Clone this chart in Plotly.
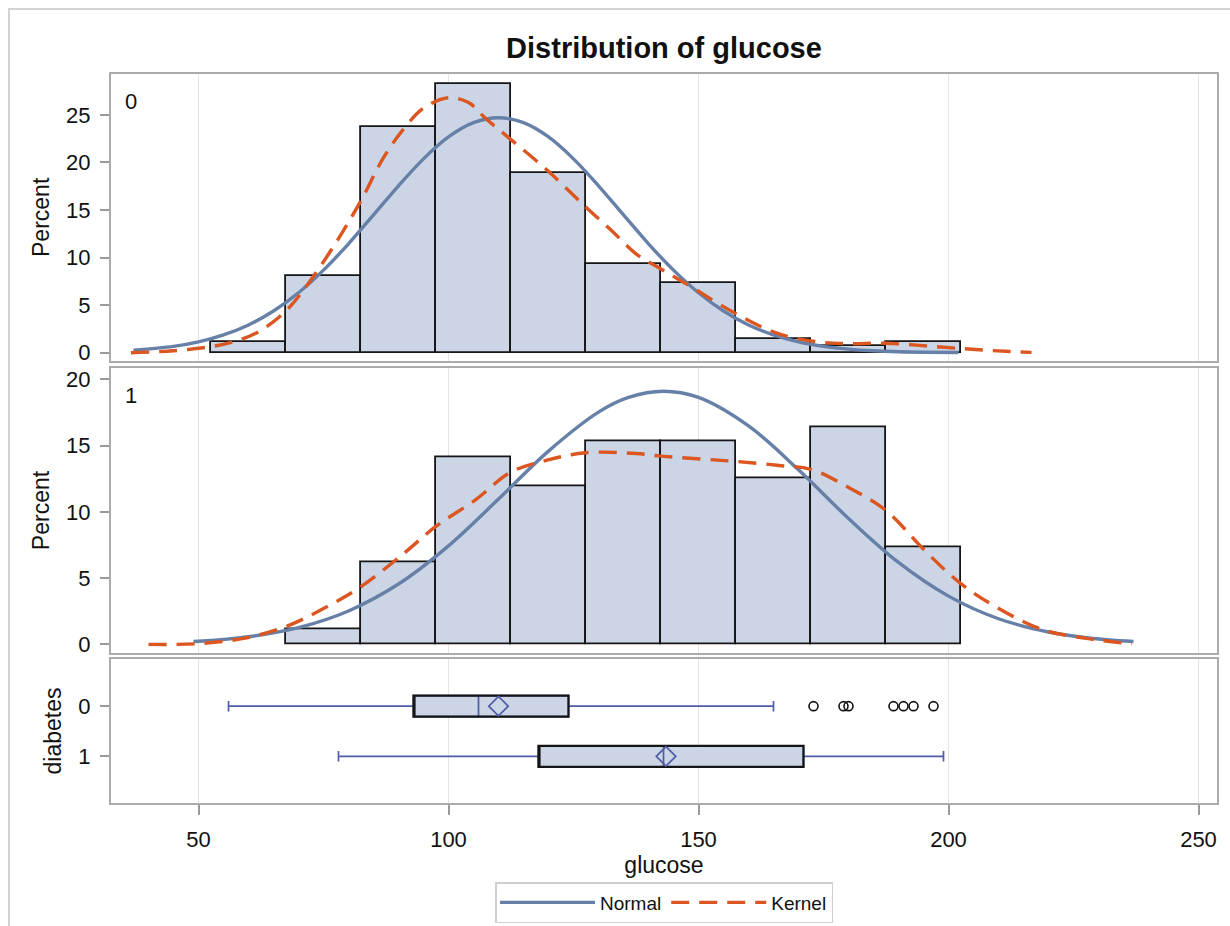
import plotly.graph_objects as go

# ---------------- data ----------------
bin_centers = [60, 75, 90, 105, 120, 135, 150, 165, 180, 195]
bin_width = 15
pct_0 = [1.1, 8.1, 23.7, 28.3, 18.9, 9.3, 7.3, 1.4, 0.7, 1.1]
pct_1 = [None, 1.1, 6.2, 14.1, 11.9, 15.3, 15.3, 12.5, 16.4, 7.3]

normal0_x = [37, 45, 50, 55, 60, 65, 70, 75, 80, 85, 90, 95, 100, 105, 110, 115, 120,
             125, 130, 135, 140, 145, 150, 155, 160, 165, 170, 175, 180, 185, 190, 195, 202]
normal0_y = [0.26, 0.67, 1.14, 1.87, 2.92, 4.38, 6.30, 8.68, 11.45, 14.49, 17.55, 20.38,
             22.68, 24.18, 24.70, 24.18, 22.68, 20.38, 17.55, 14.49, 11.45, 8.68, 6.30,
             4.38, 2.92, 1.87, 1.14, 0.67, 0.38, 0.20, 0.10, 0.05, 0.02]

kernel0_x = [36.5, 45, 52, 57, 62, 67.5, 72, 78, 82.5, 87, 91, 95, 100, 104, 107.5,
             112.5, 119.7, 127.5, 132.5, 137.5, 142.5, 148.6, 157.5, 166, 173.8,
             180, 187.5, 197.6, 207, 216.6]
kernel0_y = [0.0, 0.2, 0.6, 1.15, 2.2, 4.4, 7.3, 12.0, 16.0, 20.5, 23.5, 25.7, 26.8,
             26.3, 24.6, 22.4, 19.2, 15.3, 12.9, 10.4, 8.8, 6.9, 4.1, 2.0, 1.15,
             0.95, 1.0, 0.63, 0.28, 0.03]

normal1_x = [49, 55, 60, 70, 80, 90, 100, 110, 120, 130, 136, 143, 150, 160, 170, 180,
             190, 200, 210, 220, 228, 237]
normal1_y = [0.21, 0.37, 0.57, 1.26, 2.52, 4.55, 7.43, 10.96, 14.58, 17.52, 18.63, 19.1,
             18.63, 16.48, 13.17, 9.50, 6.18, 3.64, 1.93, 0.93, 0.48, 0.21]

kernel1_x = [40, 49.7, 59, 67.4, 75, 82.5, 91.1, 97.4, 105.4, 112.5, 119.7, 127.5,
             137.5, 142.5, 157.5, 166, 172.5, 180.2, 187.5, 195.2, 202.4, 209.4,
             218.9, 227.6, 236.7]
kernel1_y = [0.0, 0.05, 0.45, 1.33, 2.7, 4.35, 6.87, 8.88, 10.9, 13.0, 13.9, 14.46,
             14.4, 14.2, 13.8, 13.5, 13.2, 11.8, 10.1, 7.1, 4.6, 2.85, 1.1, 0.45, 0.02]

groups = ['0', '1']
box_low = [56, 78]
box_q1 = [93, 118]
box_median = [106, 143]
box_q3 = [124, 171]
box_high = [165, 199]
box_mean = [110, 143.5]
outliers_0 = [173, 179, 180, 189, 191, 193, 197]

x_ticks = [50, 100, 150, 200, 250]
x_range = [32.5, 253.7]

# ---------------- styles ----------------
FONT = "Liberation Sans, Arial, sans-serif"
BAR_FILL = "#CBD5E6"
EDGE = "#151515"
NORMAL_C = "#6780A8"
KERNEL_C = "#DB5620"
WHISK_C = "#4E5DA6"
GRID_C = "#E4E4E4"
AXLINE_C = "#ABABAB"
TXT = "#111"

fig = go.Figure()

panels = [
    ("x", "y", pct_0, normal0_x, normal0_y, kernel0_x, kernel0_y, True),
    ("x2", "y2", pct_1, normal1_x, normal1_y, kernel1_x, kernel1_y, False),
]
for xa, ya, pct, nx, ny, kx, ky, show in panels:
    fig.add_trace(go.Bar(x=bin_centers, y=pct, width=bin_width, xaxis=xa, yaxis=ya,
                         marker=dict(color=BAR_FILL, line=dict(color=EDGE, width=1.8)),
                         showlegend=False, hoverinfo="x+y"))
    fig.add_trace(go.Scatter(x=nx, y=ny, mode="lines", name="Normal", legendgroup="n",
                             showlegend=show, xaxis=xa, yaxis=ya,
                             line=dict(color=NORMAL_C, width=3.4, shape="spline")))
    fig.add_trace(go.Scatter(x=kx, y=ky, mode="lines", name="Kernel", legendgroup="k",
                             showlegend=show, xaxis=xa, yaxis=ya,
                             line=dict(color=KERNEL_C, width=3.4, dash="18px,10px",
                                       shape="spline")))

# box plots (horizontal)
for i, g in enumerate(groups):
    fig.add_trace(go.Box(y=[i], q1=[box_q1[i]], median=[box_median[i]], q3=[box_q3[i]],
                         lowerfence=[box_low[i]], upperfence=[box_high[i]],
                         orientation="h", width=0.42, whiskerwidth=0.5,
                         fillcolor=BAR_FILL, line=dict(color=WHISK_C, width=1.7),
                         xaxis="x3", yaxis="y3", showlegend=False, name=g))
    fig.add_trace(go.Box(y=[i], q1=[box_q1[i]], median=[box_q1[i]], q3=[box_q3[i]],
                         lowerfence=[box_q1[i]], upperfence=[box_q3[i]],
                         orientation="h", width=0.42, whiskerwidth=0,
                         fillcolor="rgba(0,0,0,0)", line=dict(color=EDGE, width=2.2),
                         xaxis="x3", yaxis="y3", showlegend=False, name=g,
                         hoverinfo="skip"))
    fig.add_trace(go.Scatter(x=[box_mean[i]], y=[i], mode="markers", xaxis="x3", yaxis="y3",
                             marker=dict(symbol="diamond-open", size=15, color=WHISK_C,
                                         line=dict(color=WHISK_C, width=1.7)),
                             showlegend=False))

fig.add_trace(go.Scatter(x=outliers_0, y=[0] * len(outliers_0), mode="markers",
                         xaxis="x3", yaxis="y3", showlegend=False,
                         marker=dict(symbol="circle-open", size=9, color=TXT,
                                     line=dict(color=TXT, width=1.6))))

# ---------------- layout ----------------
H_TOTAL = 729.0
def dom(top_px, bot_px):
    return [(803 - bot_px) / H_TOTAL, (803 - top_px) / H_TOTAL]

xcommon = dict(range=x_range, tickvals=x_ticks, showgrid=True, gridcolor=GRID_C, gridwidth=1.3,
               showline=True, linecolor=AXLINE_C, linewidth=2, mirror=True, zeroline=False)
ycommon = dict(showgrid=False, showline=True, linecolor=AXLINE_C, linewidth=2, mirror=True,
               zeroline=False, ticks="outside", ticklen=9, tickwidth=1.5, tickcolor="#9A9A9A",
               tickfont=dict(size=22, color=TXT, family=FONT), ticklabelstandoff=5)
ytitle_font = dict(size=23, family=FONT, color=TXT)

fig.update_layout(
    width=1230, height=926,
    margin=dict(l=111, r=13, t=74, b=123, autoexpand=False),
    paper_bgcolor="white", plot_bgcolor="white",
    font=dict(family=FONT, color=TXT),
    barmode="overlay", boxmode="overlay", bargap=0,
    title=dict(text="Distribution of glucose", x=0.5, xref="paper", xanchor="center",
               y=1 - 48 / 926, yref="container", yanchor="middle",
               font=dict(size=29, family=FONT, color=TXT, weight="bold")),
    xaxis=dict(domain=[0, 1], anchor="y", showticklabels=False, ticks="", **xcommon),
    xaxis2=dict(domain=[0, 1], anchor="y2", showticklabels=False, ticks="", matches="x",
                **xcommon),
    xaxis3=dict(domain=[0, 1], anchor="y3", ticks="outside", ticklen=10, tickwidth=1.5,
                tickcolor="#9A9A9A", tickfont=dict(size=22, color=TXT, family=FONT),
                ticklabelstandoff=6, matches="x",
                title=dict(text="glucose", font=ytitle_font, standoff=5),
                **xcommon),
    yaxis=dict(domain=dom(74, 360.7), anchor="x", range=[-0.84, 29.3],
               tickvals=[0, 5, 10, 15, 20, 25],
               title=dict(text="Percent", font=ytitle_font, standoff=10), **ycommon),
    yaxis2=dict(domain=dom(368.3, 652.7), anchor="x2", range=[-0.63, 20.83],
                tickvals=[0, 5, 10, 15, 20],
                title=dict(text="Percent", font=ytitle_font, standoff=10), **ycommon),
    yaxis3=dict(domain=dom(659, 803), anchor="x3", range=[1.93, -0.94],
                tickvals=[0, 1], ticktext=groups,
                title=dict(text="diabetes", font=ytitle_font, standoff=10), **ycommon),
    legend=dict(orientation="h", x=0.5, xanchor="center", xref="paper",
                y=-(882 - 803) / H_TOTAL, yanchor="top",
                bordercolor="#CFCFCF", borderwidth=1.5, bgcolor="white",
                font=dict(size=19, family=FONT, color=TXT), itemwidth=95,
                tracegroupgap=0),
    annotations=[
        dict(text="0", xref="x domain", yref="y domain", x=0.011, y=0.955,
             xanchor="left", yanchor="top", showarrow=False,
             font=dict(size=22, family=FONT, color=TXT)),
        dict(text="1", xref="x2 domain", yref="y2 domain", x=0.011, y=0.955,
             xanchor="left", yanchor="top", showarrow=False,
             font=dict(size=22, family=FONT, color=TXT)),
    ],
    shapes=[
        dict(type="rect", xref="paper", yref="paper",
             x0=(9 - 111) / 1106.0, x1=(1245 - 111) / 1106.0,
             y0=-(945 - 803) / H_TOTAL, y1=(803 - 9) / H_TOTAL,
             line=dict(color="#D2D2D2", width=2), fillcolor="rgba(0,0,0,0)", layer="below"),
    ],
)

fig.write_html("out.html")
